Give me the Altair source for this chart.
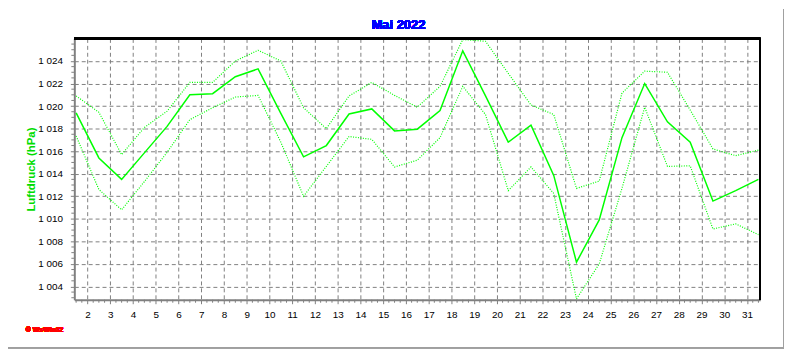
import altair as alt
import pandas as pd
import numpy as np

# ---- data ----
days = list(range(1, 32))
mean_p = [1019.4, 1015.4, 1013.5, 1015.85, 1018.2, 1021.0, 1021.1, 1022.6, 1023.3, 1019.35,
          1015.5, 1016.5, 1019.3, 1019.75, 1017.8, 1017.95, 1019.6, 1024.9, 1020.9, 1016.8,
          1018.3, 1013.85, 1006.15, 1009.9, 1017.2, 1022.0, 1018.6, 1016.8, 1011.57, 1012.5, 1013.5]
max_p = [1020.9, 1019.45, 1015.7, 1018.1, 1019.55, 1022.1, 1022.1, 1024.0, 1024.95, 1024.0,
         1019.85, 1018.0, 1020.9, 1022.1, 1020.95, 1019.9, 1021.75, 1025.9, 1025.75, 1022.9,
         1020.1, 1019.25, 1012.7, 1013.35, 1021.15, 1023.1, 1023.0, 1019.65, 1016.2, 1015.6, 1016.1]
min_p = [1017.35, 1012.6, 1010.8, 1013.3, 1015.9, 1018.8, 1019.85, 1020.8, 1020.95, 1016.8,
         1012.0, 1014.65, 1017.3, 1017.05, 1014.6, 1015.2, 1017.2, 1021.75, 1019.25, 1012.5,
         1014.6, 1012.25, 1002.9, 1006.0, 1012.7, 1019.9, 1014.65, 1014.7, 1009.1, 1009.55, 1008.6]
x_ticks = list(range(2, 32))
y_ticks = list(range(1004, 1025, 2))
title_text = "Mai 2022"
y_title = "Luftdruck (hPa)"
credit_text = "\u00a9 WsWin32"

W, H = 693, 264
FONT = "Liberation Sans"
GRID = "#808080"
GREEN = "#00ff00"

df = pd.DataFrame({"t": [d + 0.5 for d in days], "mean": mean_p, "max": max_p, "min": min_p})

xminor = pd.DataFrame({"t": [v for v in np.arange(1.5, 31.6, 0.25) if abs(v - round(v)) > 1e-9]})
yminor = pd.DataFrame({"v": [v for v in np.arange(1003.0, 1026.0, 0.5) if not (v == int(v) and int(v) % 2 == 0)]})

xscale = alt.Scale(domain=[1.42, 31.58], nice=False, zero=False)
yscale = alt.Scale(domain=[1002.82, 1026.0], nice=False, zero=False)

xaxis = alt.Axis(values=x_ticks, title=None, grid=True, gridColor=GRID, gridDash=[4, 3],
                 gridOpacity=1, domainColor=GRID, domainWidth=2, tickColor=GRID, tickSize=4,
                 labelFont=FONT, labelFontSize=10, labelColor="#000000", labelPadding=6,
                 labelFlush=False, labelOverlap=False)
yaxis = alt.Axis(values=y_ticks, grid=True, gridColor=GRID, gridDash=[4, 3], gridOpacity=1,
                 domainColor=GRID, domainWidth=2, tickColor=GRID, tickSize=4,
                 labelFont=FONT, labelFontSize=10, labelColor="#000000", labelPadding=8,
                 labelExpr="format(floor(datum.value/1000),'d') + ' ' + format(datum.value % 1000,'03d')",
                 title=y_title, titleColor="#00dd00", titleFont=FONT, titleFontSize=11.5,
                 titleFontWeight="bold", titleAngle=270, titleX=-43, titleY=H / 2,
                 titleAlign="center", titleBaseline="middle")

base = alt.Chart(df)
mean_line = base.mark_line(color=GREEN, strokeWidth=1.5, clip=True).encode(
    x=alt.X("t:Q", scale=xscale, axis=xaxis),
    y=alt.Y("mean:Q", scale=yscale, axis=yaxis),
)
max_line = base.mark_line(color=GREEN, strokeWidth=1.2, strokeDash=[1, 1.5], clip=True).encode(
    x=alt.X("t:Q", scale=xscale, axis=xaxis),
    y=alt.Y("max:Q", scale=yscale, axis=yaxis),
)
min_line = base.mark_line(color=GREEN, strokeWidth=1.2, strokeDash=[1, 1.5], clip=True).encode(
    x=alt.X("t:Q", scale=xscale, axis=xaxis),
    y=alt.Y("min:Q", scale=yscale, axis=yaxis),
)

xminor_ticks = alt.Chart(xminor).mark_rule(color=GRID, strokeWidth=1).encode(
    x=alt.X("t:Q", scale=xscale, axis=xaxis),
    y=alt.value(H), y2=alt.value(H + 3),
)
yminor_ticks = alt.Chart(yminor).mark_rule(color=GRID, strokeWidth=1).encode(
    y=alt.Y("v:Q", scale=yscale, axis=yaxis),
    x=alt.value(-3), x2=alt.value(0),
)

top_border = alt.Chart(df).mark_rule(color="#000000", strokeWidth=1.5).encode(
    x=alt.value(0), x2=alt.value(W), y=alt.value(0))
right_border = alt.Chart(df).mark_rule(color="#000000", strokeWidth=1.5).encode(
    x=alt.value(W), y=alt.value(0), y2=alt.value(H))

frame_bottom = alt.Chart(df).mark_rule(color="#a0a0a0", strokeWidth=1).encode(
    x=alt.value(-67), x2=alt.value(W + 24), y=alt.value(H + 48.5))
frame_right = alt.Chart(df).mark_rule(color="#a0a0a0", strokeWidth=1).encode(
    x=alt.value(W + 23.5), y=alt.value(-29), y2=alt.value(H + 49))

credit = alt.Chart(df).mark_text(text=credit_text, color="#ff0000", font=FONT, fontSize=7,
                                  fontWeight="bold", align="left", baseline="middle").encode(
    x=alt.value(-49), y=alt.value(295))

title = alt.Chart(df).mark_text(text=title_text, color="#0000ff", font=FONT, fontSize=13,
                                 fontWeight="bold", align="center", baseline="middle").encode(
    x=alt.value(W / 2 - 19), y=alt.value(-14))

chart = alt.layer(
    mean_line, max_line, min_line, xminor_ticks, yminor_ticks,
    top_border, right_border, frame_bottom, frame_right, credit, title,
).properties(
    width=W, height=H,
    autosize=alt.AutoSizeParams(type="none"),
    padding={"left": 67, "top": 29, "right": 24, "bottom": 49},
    background="#ffffff",
).configure_view(stroke=None)

chart.save("out.html", embed_options={"renderer": "svg", "actions": False})
